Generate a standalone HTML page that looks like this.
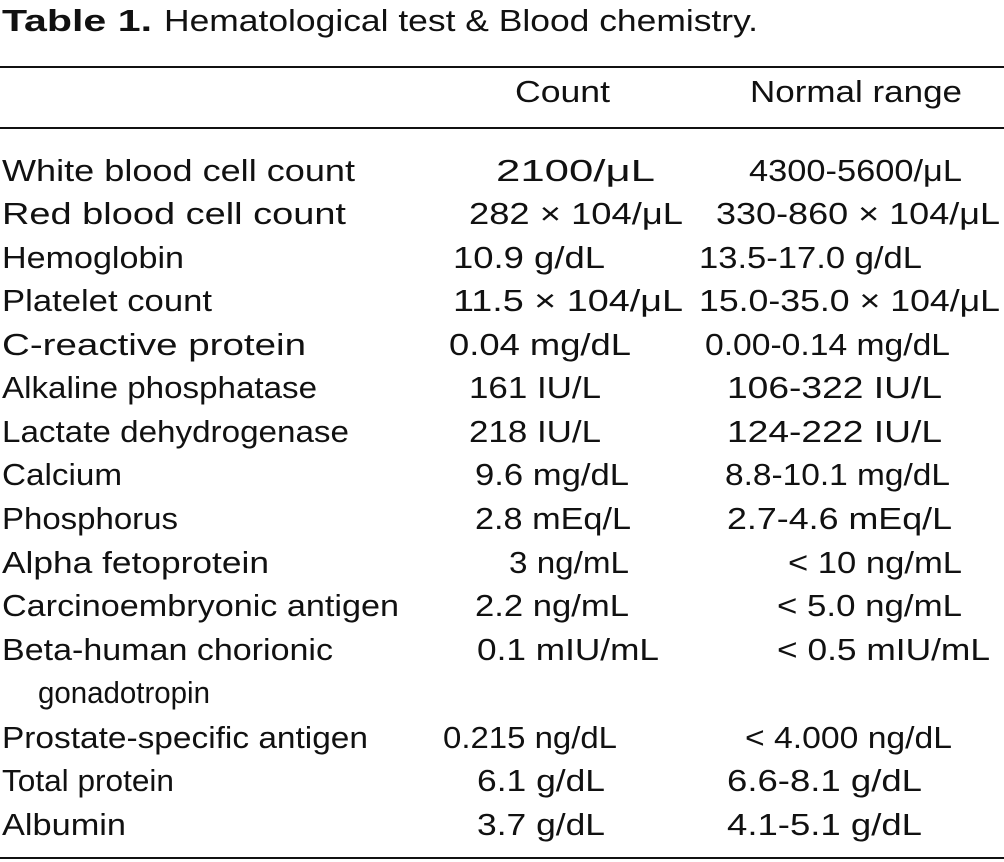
<!DOCTYPE html>
<html><head><meta charset="utf-8"><style>
html,body{margin:0;padding:0;background:#fff}
svg{display:block}
text{font-family:"Liberation Sans",sans-serif;font-size:31px;fill:#111}
</style></head><body>
<svg width="1004" height="862" viewBox="0 0 1004 862" xmlns="http://www.w3.org/2000/svg">
<text x="2" y="31" font-weight="bold" textLength="150" lengthAdjust="spacingAndGlyphs">Table 1.</text>
<text x="164" y="31" textLength="594" lengthAdjust="spacingAndGlyphs">Hematological test &amp; Blood chemistry.</text>
<rect x="0" y="66" width="1004" height="2" fill="#111"/>
<text x="515" y="102" textLength="95" lengthAdjust="spacingAndGlyphs">Count</text>
<text x="750" y="102" textLength="212" lengthAdjust="spacingAndGlyphs">Normal range</text>
<rect x="0" y="127" width="1004" height="2" fill="#111"/>
<rect x="0" y="857" width="1004" height="2" fill="#111"/>
<g>
<text x="2" y="181" textLength="353" lengthAdjust="spacingAndGlyphs">White blood cell count</text>
<text x="496" y="181" textLength="159" lengthAdjust="spacingAndGlyphs">2100/μL</text>
<text x="749" y="181" textLength="213" lengthAdjust="spacingAndGlyphs">4300-5600/μL</text>

<text x="2" y="224" textLength="344" lengthAdjust="spacingAndGlyphs">Red blood cell count</text>
<text x="469" y="224" textLength="214" lengthAdjust="spacingAndGlyphs">282 × 104/μL</text>
<text x="716" y="224" textLength="284" lengthAdjust="spacingAndGlyphs">330-860 × 104/μL</text>

<text x="2" y="268" textLength="182" lengthAdjust="spacingAndGlyphs">Hemoglobin</text>
<text x="453" y="268" textLength="152" lengthAdjust="spacingAndGlyphs">10.9 g/dL</text>
<text x="699" y="268" textLength="223" lengthAdjust="spacingAndGlyphs">13.5-17.0 g/dL</text>

<text x="2" y="311" textLength="210" lengthAdjust="spacingAndGlyphs">Platelet count</text>
<text x="453" y="311" textLength="230" lengthAdjust="spacingAndGlyphs">11.5 × 104/μL</text>
<text x="699" y="311" textLength="301" lengthAdjust="spacingAndGlyphs">15.0-35.0 × 104/μL</text>

<text x="2" y="355" textLength="304" lengthAdjust="spacingAndGlyphs">C-reactive protein</text>
<text x="449" y="355" textLength="182" lengthAdjust="spacingAndGlyphs">0.04 mg/dL</text>
<text x="705" y="355" textLength="245" lengthAdjust="spacingAndGlyphs">0.00-0.14 mg/dL</text>

<text x="2" y="398" textLength="315" lengthAdjust="spacingAndGlyphs">Alkaline phosphatase</text>
<text x="469" y="398" textLength="132" lengthAdjust="spacingAndGlyphs">161 IU/L</text>
<text x="727" y="398" textLength="215" lengthAdjust="spacingAndGlyphs">106-322 IU/L</text>

<text x="2" y="442" textLength="347" lengthAdjust="spacingAndGlyphs">Lactate dehydrogenase</text>
<text x="469" y="442" textLength="132" lengthAdjust="spacingAndGlyphs">218 IU/L</text>
<text x="727" y="442" textLength="215" lengthAdjust="spacingAndGlyphs">124-222 IU/L</text>

<text x="2" y="485" textLength="120" lengthAdjust="spacingAndGlyphs">Calcium</text>
<text x="475" y="485" textLength="154" lengthAdjust="spacingAndGlyphs">9.6 mg/dL</text>
<text x="725" y="485" textLength="225" lengthAdjust="spacingAndGlyphs">8.8-10.1 mg/dL</text>

<text x="2" y="529" textLength="176" lengthAdjust="spacingAndGlyphs">Phosphorus</text>
<text x="475" y="529" textLength="156" lengthAdjust="spacingAndGlyphs">2.8 mEq/L</text>
<text x="727" y="529" textLength="225" lengthAdjust="spacingAndGlyphs">2.7-4.6 mEq/L</text>

<text x="2" y="573" textLength="267" lengthAdjust="spacingAndGlyphs">Alpha fetoprotein</text>
<text x="509" y="573" textLength="120" lengthAdjust="spacingAndGlyphs">3 ng/mL</text>
<text x="788" y="573" textLength="174" lengthAdjust="spacingAndGlyphs">&lt; 10 ng/mL</text>

<text x="2" y="616" textLength="397" lengthAdjust="spacingAndGlyphs">Carcinoembryonic antigen</text>
<text x="475" y="616" textLength="154" lengthAdjust="spacingAndGlyphs">2.2 ng/mL</text>
<text x="777" y="616" textLength="185" lengthAdjust="spacingAndGlyphs">&lt; 5.0 ng/mL</text>

<text x="2" y="660" textLength="331" lengthAdjust="spacingAndGlyphs">Beta-human chorionic</text>
<text x="477" y="660" textLength="182" lengthAdjust="spacingAndGlyphs">0.1 mIU/mL</text>
<text x="777" y="660" textLength="213" lengthAdjust="spacingAndGlyphs">&lt; 0.5 mIU/mL</text>
<text x="38" y="703" textLength="172" lengthAdjust="spacingAndGlyphs">gonadotropin</text>

<text x="2" y="748" textLength="366" lengthAdjust="spacingAndGlyphs">Prostate-specific antigen</text>
<text x="443" y="748" textLength="174" lengthAdjust="spacingAndGlyphs">0.215 ng/dL</text>
<text x="745" y="748" textLength="207" lengthAdjust="spacingAndGlyphs">&lt; 4.000 ng/dL</text>

<text x="2" y="791" textLength="172" lengthAdjust="spacingAndGlyphs">Total protein</text>
<text x="477" y="791" textLength="128" lengthAdjust="spacingAndGlyphs">6.1 g/dL</text>
<text x="727" y="791" textLength="195" lengthAdjust="spacingAndGlyphs">6.6-8.1 g/dL</text>

<text x="2" y="835" textLength="124" lengthAdjust="spacingAndGlyphs">Albumin</text>
<text x="477" y="835" textLength="128" lengthAdjust="spacingAndGlyphs">3.7 g/dL</text>
<text x="727" y="835" textLength="195" lengthAdjust="spacingAndGlyphs">4.1-5.1 g/dL</text>
</g>
</svg>
</body></html>
